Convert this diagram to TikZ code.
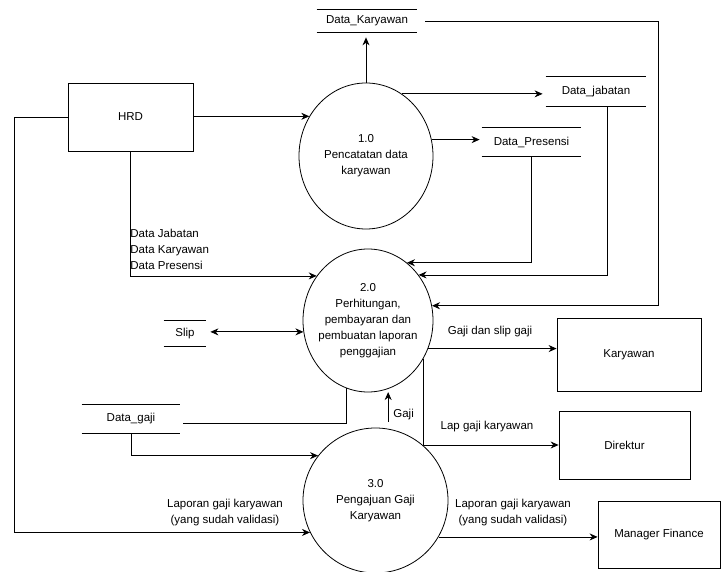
\documentclass[tikz,border=0pt]{standalone}
\usepackage{fontspec}
\setmainfont{Liberation Sans}
\usetikzlibrary{shapes.geometric,arrows.meta}
\begin{document}
\begin{tikzpicture}[x=1pt,y=-1pt,
  font=\fontsize{11.5}{16}\selectfont,
  line width=0.8pt,
  proc/.style={ellipse,draw,fill=white,inner sep=0pt},
  ent/.style={rectangle,draw,inner sep=0pt},
  store/.style={rectangle,inner sep=0pt},
  tip/.style={-{Stealth[length=8pt,width=7pt]}},
  both/.style={{Stealth[length=8pt,width=7pt]}-{Stealth[length=8pt,width=7pt]}},
  lbl/.style={inner sep=0pt,align=center}
  ]
\useasboundingbox (0,0) rectangle (721,572);

% external entities
\node[ent,minimum width=125pt,minimum height=68pt] (hrd) at (130.5,117) {HRD};
\node[ent,minimum width=144pt,minimum height=73pt] (kar) at (629,354.5) {Karyawan};
\node[ent,minimum width=131pt,minimum height=68pt] (dir) at (624.5,445) {Direktur};
\node[ent,minimum width=122pt,minimum height=67pt] (mf) at (659,534.5) {Manager Finance};

% processes
\node[proc,minimum width=134pt,minimum height=146pt,
  label={[lbl]center:{1.0\\Pencatatan data\\karyawan}}] (c1) at (366,156) {};
\node[proc,minimum width=130pt,minimum height=143pt,
  label={[lbl]center:{2.0\\Perhitungan,\\pembayaran dan\\pembuatan laporan\\penggajian}}] (c2) at (368,320.5) {};
\node[proc,minimum width=145pt,minimum height=145pt,
  label={[lbl]center:{3.0\\Pengajuan Gaji\\Karyawan}}] (c3) at (375.5,500.5) {};

% data stores
\node[store,minimum width=100pt,minimum height=22pt] (dk) at (367,21) {Data\_Karyawan};
\node[store,minimum width=100pt,minimum height=29pt] (dj) at (596,91.5) {Data\_jabatan};
\node[store,minimum width=99pt,minimum height=28pt] (dp) at (531.5,142) {Data\_Presensi};
\node[store,minimum width=42pt,minimum height=25pt] (slip) at (185,333.5) {Slip};
\node[store,minimum width=98pt,minimum height=28pt] (dg) at (131,419) {Data\_gaji};
\foreach \n in {dk,dj,dp,slip,dg}
  \draw (\n.north west) -- (\n.north east) (\n.south west) -- (\n.south east);

\coordinate (kx) at (658,0);
\coordinate (lx) at (14,0);

% flows
\draw[tip] (c1.145.4 -| hrd.east) -- (c1.145.4);
\draw[tip,shorten >=5pt] (c1.north) -- (c1.north |- dk.south);
\draw[tip,shorten >=3pt] (c1.60.3) -- (c1.60.3 -| dj.west);
\draw[tip,shorten >=2pt] (c1.14.6) -- (c1.14.6 -| dp.west);
\draw[tip] ([xshift=8pt]dk.east) -| (kx |- c2.13.7) -- (c2.13.7);
\draw[tip] ([xshift=11pt]dj.south) |- (c2.42.2);
\draw[tip] (dp.south) |- (c2.56.1);
\draw[tip] (hrd.south) |- (c2.139.9);
\draw[both,shorten >=4pt] (c2.190.2) -- (c2.190.2 -| slip.east);
\draw[tip] (c2.335.4) -- (c2.335.4 -| kar.west);
\draw[tip] (c2.325.3) |- (dir.west);
\draw (c2.252.8) |- ([xshift=3pt,yshift=-4pt]dg.east);
\draw[tip,shorten <=7pt,shorten >=3pt] (c3.80.1) -- (c3.80.1 |- c2.286.4);
\draw[tip] (hrd.west) -| (lx |- c3.206.6) -- (c3.206.6);
\draw[tip] (dg.south) |- (c3.142.1);
\draw[tip] (c3.330.7) -- (c3.330.7 -| mf.west);

% labels
\node[lbl,anchor=west,align=left] at (130,249.5) {Data Jabatan\\Data Karyawan\\Data Presensi};
\node[lbl] at (490,332) {Gaji dan slip gaji};
\node[lbl] at (487,427) {Lap gaji karyawan};
\node[lbl,anchor=west] at (393,415) {Gaji};
\node[lbl] at (225,512.5) {Laporan gaji karyawan\\(yang sudah validasi)};
\node[lbl] at (513,512.5) {Laporan gaji karyawan\\(yang sudah validasi)};
\end{tikzpicture}
\end{document}
